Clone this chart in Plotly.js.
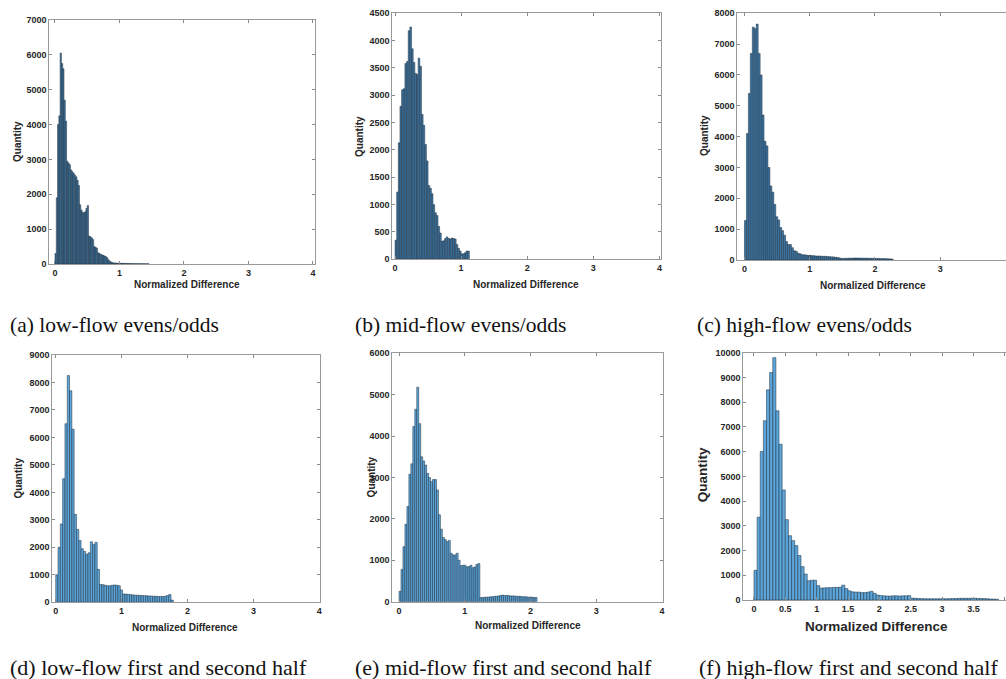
<!DOCTYPE html>
<html><head><meta charset="utf-8">
<script src="https://cdn.plot.ly/plotly-3.0.1.min.js"></script>
<style>html,body{margin:0;padding:0;background:#fff}#chart{width:1006px;height:679px}</style>
</head><body><div id="chart"></div>
<script>
// ---------- DATA (histogram counts per bin, bins start at 0) ----------
const captions = [
  "(a) low-flow evens/odds", "(b) mid-flow evens/odds", "(c) high-flow evens/odds",
  "(d) low-flow first and second half", "(e) mid-flow first and second half", "(f) high-flow first and second half"
];
const xTitle = "Normalized Difference";
const yTitle = "Quantity";

const lowEvensOddsBin = 0.02;
const lowEvensOdds = [300,1900,4000,4250,6050,5750,5600,4700,4100,2950,2900,2850,2700,2650,2600,2550,2500,2400,2250,1700,1550,1480,1470,1500,1600,1680,800,780,750,700,500,480,450,320,300,280,260,250,230,210,180,120,80,60,40,30,30,25,25,22,20,20,18,18,15,15,15,12,12,10,10,10,10,8,8,8,6,6,5,5,5,4,4];

const midEvensOddsBin = 0.025;
const midEvensOdds = [350,1230,2130,2800,3100,3120,3580,3620,4180,4250,3850,3600,3400,3380,3680,3530,2650,2450,2100,1800,1350,1300,1200,1000,850,800,600,480,330,340,380,410,380,370,390,380,370,270,200,150,100,100,120,150,150];

const highEvensOddsBin = 0.03;
const highEvensOdds = [1280,4100,5400,6700,7550,7500,7650,6700,6000,4700,3850,3700,3000,2400,2200,1800,1400,1300,1050,950,800,600,500,500,400,300,280,220,200,170,170,160,150,
  150,140,140,130,130,130,120,120,120,110,110,100,100,90,80,70,
  50,50,55,55,60,60,60,65,65,65,60,60,60,60,55,55,55,50,50,50,45,45,45,40,40,35,30];

const lowHalvesBin = 0.035;
const lowHalves = [1000,2000,2850,4500,6500,8250,7700,6300,3200,2650,2250,1950,1850,1750,1800,2200,2100,2180,1200,650,640,620,600,600,620,630,620,600,450,300,300,290,280,270,260,260,250,250,240,240,230,230,220,220,210,210,210,220,250,280,80];

const midHalvesBin = 0.03;
const midHalves = [250,780,1330,1870,2300,3080,3330,4230,4650,5180,4300,3500,3400,3300,3100,3000,2900,2950,2950,2700,2100,1750,1550,1500,1450,1480,1170,1130,1130,1170,1000,870,880,880,840,850,880,820,840,900,920,
  100,100,110,110,110,120,120,130,130,140,150,160,150,150,150,140,140,140,130,130,130,120,120,120,110,110,110,100,100];

const highHalvesBin = 0.05;
const highHalves = [1200,3350,6000,7250,8500,9200,9800,7650,6300,4450,3250,2600,2400,2200,1800,1350,1050,780,800,800,580,480,490,500,500,510,510,520,600,460,370,330,320,320,300,300,320,350,270,200,180,170,160,160,170,170,160,170,170,180,
  80,70,60,55,50,50,50,50,50,50,50,50,55,60,60,65,70,70,70,70,70,65,60,55,50,40,35,30];

const xTicks = [0,1,2,3,4];
const xTicksFine = [0,0.5,1,1.5,2,2.5,3,3.5,4];
const yTicksA = [0,1000,2000,3000,4000,5000,6000,7000];
const yTicksB = [0,500,1000,1500,2000,2500,3000,3500,4000,4500];
const yTicksC = [0,1000,2000,3000,4000,5000,6000,7000,8000];
const yTicksD = [0,1000,2000,3000,4000,5000,6000,7000,8000,9000];
const yTicksE = [0,1000,2000,3000,4000,5000,6000];
const yTicksF = [0,1000,2000,3000,4000,5000,6000,7000,8000,9000,10000];

// ---------- LAYOUT ----------
const W = 1006, H = 679;
const px = x => x / W;
const py = y => 1 - y / H;

const topFill = '#3f79a8', botFill = '#5ca6db', edge = '#1c2c3a';
const panels = [
  {counts: lowEvensOdds, bin: lowEvensOddsBin, box:[49.3,315.3,20,264], xr:[-0.088,4.036], ymax:7000, xt:xTicks, yt:yTicksA, fill:topFill,
   xt_pos:[187,284], yt_pos:[17,142], tsize:10, cap:[8,325], capSize:21.5, mirrorY:true},
  {counts: midEvensOdds, bin: midEvensOddsBin, box:[392.3,660.7,13.3,259.3], xr:[-0.041,4.02], ymax:4500, xt:xTicks, yt:yTicksB, fill:topFill,
   xt_pos:[525.7,284], yt_pos:[360,137], tsize:10, cap:[353,325], capSize:21.5, mirrorY:true},
  {counts: highEvensOdds, bin: highEvensOddsBin, box:[737.3,1006,13.3,260], xr:[-0.11,4.01], ymax:8000, xt:xTicks, yt:yTicksC, fill:topFill,
   xt_pos:[872.7,285], yt_pos:[705,136], tsize:10, cap:[695,325], capSize:21.5, mirrorY:false},
  {counts: lowHalves, bin: lowHalvesBin, box:[52.3,320,355,602.3], xr:[-0.052,4.011], ymax:9000, xt:xTicks, yt:yTicksD, fill:botFill,
   xt_pos:[185,627.3], yt_pos:[18.3,478.3], tsize:10, cap:[8,667], capSize:22, mirrorY:true},
  {counts: midHalves, bin: midHalvesBin, box:[392.3,662.7,353.3,601.7], xr:[-0.102,4.011], ymax:6000, xt:xTicks, yt:yTicksE, fill:botFill,
   xt_pos:[527.7,625.7], yt_pos:[371.7,476.7], tsize:10, cap:[353,667], capSize:22, mirrorY:true},
  {counts: highHalves, bin: highHalvesBin, box:[743.3,1006,352.7,600], xr:[-0.17,4.02], ymax:10000, xt:xTicksFine, yt:yTicksF, fill:botFill,
   xt_pos:[876.7,626], yt_pos:[703.3,475], tsize:13.5, cap:[697,667], capSize:22, mirrorY:false}
];

const tickFont = {family:'Liberation Sans, Arial, sans-serif', size:9, color:'#262626', weight:'bold'};
const traces = [];
const layout = {
  width: W, height: H, margin:{l:0,r:0,t:0,b:0}, paper_bgcolor:'#fff', plot_bgcolor:'#fff',
  showlegend:false, bargap:0, annotations:[]
};

panels.forEach((p, i) => {
  const k = i === 0 ? '' : String(i + 1);
  const centers = p.counts.map((_, j) => (j + 0.5) * p.bin);
  traces.push({
    type:'bar', x:centers, y:p.counts, width:p.bin,
    xaxis:'x' + k, yaxis:'y' + k, hoverinfo:'skip',
    marker:{color:p.fill, line:{color:edge, width:0.5}}
  });
  const common = {
    ticks:'inside', ticklen:3, tickwidth:1, tickcolor:'#8a8a8a',
    showline:true, linecolor:'#9a9a9a', linewidth:1,
    showgrid:false, zeroline:false, tickfont:tickFont, fixedrange:true
  };
  layout['xaxis' + k] = Object.assign({}, common, {
    domain:[px(p.box[0]), px(p.box[1])], anchor:'y' + k,
    range:p.xr, tickmode:'array', tickvals:p.xt, ticktext:p.xt.map(String), mirror:'allticks'
  });
  layout['yaxis' + k] = Object.assign({}, common, {
    domain:[py(p.box[3]), py(p.box[2])], anchor:'x' + k,
    range:[0, p.ymax], tickmode:'array', tickvals:p.yt, ticktext:p.yt.map(String),
    mirror:p.mirrorY ? 'allticks' : false
  });
  const titleFont = {family:'Liberation Sans, Arial, sans-serif', size:p.tsize, color:'#262626', weight:'bold'};
  layout.annotations.push({
    text:xTitle, xref:'paper', yref:'paper', x:px(p.xt_pos[0]), y:py(p.xt_pos[1]),
    xanchor:'center', yanchor:'middle', showarrow:false, font:titleFont
  });
  layout.annotations.push({
    text:yTitle, xref:'paper', yref:'paper', x:px(p.yt_pos[0]), y:py(p.yt_pos[1]),
    xanchor:'center', yanchor:'middle', textangle:-90, showarrow:false, font:titleFont
  });
  layout.annotations.push({
    text:captions[i], xref:'paper', yref:'paper', x:px(p.cap[0]), y:py(p.cap[1]),
    xanchor:'left', yanchor:'middle', showarrow:false,
    font:{family:'Liberation Serif, Times New Roman, serif', size:p.capSize, color:'#111'}
  });
});

Plotly.newPlot('chart', traces, layout, {displayModeBar:false, staticPlot:true});
</script>
</body></html>
